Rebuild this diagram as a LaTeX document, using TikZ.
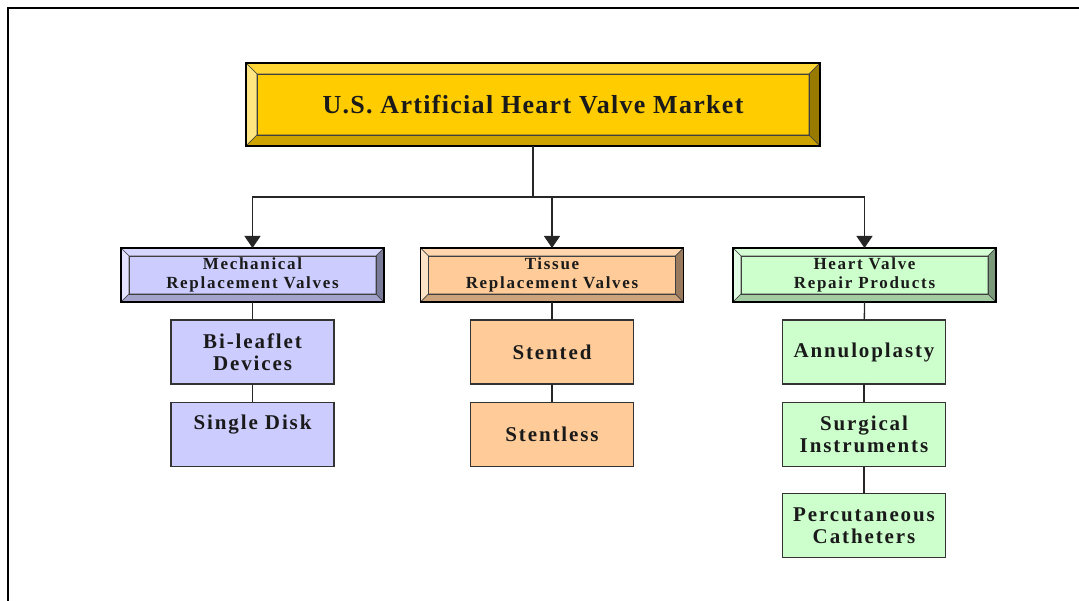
\documentclass[tikz,border=0pt]{standalone}
\usepackage{fontspec}
\setmainfont{Liberation Serif}
\newfontfamily\titlefont[LetterSpace=5]{Liberation Serif}
\newfontfamily\groupfont[LetterSpace=10]{Liberation Serif}
\newfontfamily\boxfont[LetterSpace=9]{Liberation Serif}
\usepackage{tikz}
\usetikzlibrary{arrows.meta}

\definecolor{goldface}{HTML}{FFCC00}
\definecolor{goldtop}{HTML}{FFD633}
\definecolor{goldleft}{HTML}{FFE680}
\definecolor{goldbottom}{HTML}{CCA300}
\definecolor{goldright}{HTML}{997A00}
\definecolor{mechface}{HTML}{CCCCFF}
\definecolor{mechtop}{HTML}{D6D6FF}
\definecolor{mechleft}{HTML}{E3E3FF}
\definecolor{mechbottom}{HTML}{A3A3CC}
\definecolor{mechright}{HTML}{7A7A99}
\definecolor{tissface}{HTML}{FFCC99}
\definecolor{tisstop}{HTML}{FFD6AD}
\definecolor{tissleft}{HTML}{FFE3C6}
\definecolor{tissbottom}{HTML}{CCA37A}
\definecolor{tissright}{HTML}{997A5C}
\definecolor{repface}{HTML}{CCFFCC}
\definecolor{reptop}{HTML}{D6FFD6}
\definecolor{repleft}{HTML}{E3FFE3}
\definecolor{repbottom}{HTML}{A3CCA3}
\definecolor{repright}{HTML}{7A997A}
\definecolor{inkcol}{HTML}{1A1A1A}

% bevelled frame round a node: name, bevel, top, left, bottom, right
\newcommand{\bevelbox}[6]{%
  \coordinate (#1-a) at ([xshift=#2,yshift=-#2]#1.north west);
  \coordinate (#1-b) at ([xshift=-#2,yshift=-#2]#1.north east);
  \coordinate (#1-c) at ([xshift=-#2,yshift=#2]#1.south east);
  \coordinate (#1-d) at ([xshift=#2,yshift=#2]#1.south west);
  \filldraw[fill=#3, bevelline] (#1.north west) -- (#1.north east) -- (#1-b) -- (#1-a) -- cycle;
  \filldraw[fill=#4, bevelline] (#1.north west) -- (#1-a) -- (#1-d) -- (#1.south west) -- cycle;
  \filldraw[fill=#5, bevelline] (#1.south west) -- (#1-d) -- (#1-c) -- (#1.south east) -- cycle;
  \filldraw[fill=#6, bevelline] (#1.north east) -- (#1.south east) -- (#1-c) -- (#1-b) -- cycle;
  \draw[bevelline] (#1-a) rectangle (#1-c);
  \draw[black, line width=1.3pt] (#1.north west) rectangle (#1.south east);
}

\begin{document}
\begin{tikzpicture}[x=1pt, y=-1pt,
    bevelline/.style={draw=black!75, line width=0.6pt},
    market/.style={rectangle, fill=goldface, minimum width=574pt, minimum height=83pt, outer sep=0pt,
      text=inkcol, font=\titlefont\bfseries\fontsize{26}{30}\selectfont},
    group/.style={rectangle, minimum width=263pt, minimum height=54pt, outer sep=0pt, align=center,
      text=inkcol, font=\groupfont\bfseries\fontsize{17}{19}\selectfont},
    leaf/.style={rectangle, draw=black!80, line width=1.2pt, minimum width=163pt, minimum height=64pt,
      outer sep=0pt, align=center, text=inkcol, font=\boxfont\bfseries\fontsize{21}{22}\selectfont},
    arrow/.style={-{Triangle[length=12pt, width=16pt]}, line width=1.3pt},
    link/.style={line width=1.3pt, draw=black!85}
]
\useasboundingbox (0,0) rectangle (1079,601);

% page frame
\draw[line width=2pt] (8,601) -- (8,8) -- (1079,8);

% top level
\node[market] at (533,104.5) (market) {U.S. Artificial Heart Valve Market};
\bevelbox{market}{11pt}{goldtop}{goldleft}{goldbottom}{goldright}

% product groups
\node[group, fill=mechface] at (252.5,275) (mech) {Mechanical\\Replacement Valves};
\bevelbox{mech}{8pt}{mechtop}{mechleft}{mechbottom}{mechright}
\node[group, fill=tissface] at (552,275) (tissue) {Tissue\\Replacement Valves};
\bevelbox{tissue}{8pt}{tisstop}{tissleft}{tissbottom}{tissright}
\node[group, fill=repface] at (864.5,275) (repair) {Heart Valve\\Repair Products};
\bevelbox{repair}{8pt}{reptop}{repleft}{repbottom}{repright}

% products
\node[leaf, fill=mechface] at (252.5,352) (bileaf) {Bi-leaflet\\Devices};
\node[leaf, fill=mechface, text depth=24pt] at (252.5,434.5) (disk) {Single Disk};
\node[leaf, fill=tissface] at (552,352) (stented) {Stented};
\node[leaf, fill=tissface] at (552,434.5) (stentless) {Stentless};
\node[leaf, fill=repface] at (864,352) (annulo) {Annuloplasty};
\node[leaf, fill=repface] at (864,434.5) (surgical) {Surgical\\Instruments};
\node[leaf, fill=repface] at (864,525.5) (percut) {Percutaneous\\Catheters};

% Arrows
\coordinate (fork) at ([yshift=-51pt]market.south);
\draw[link] (market.south) -- (fork);
\draw[link, arrow] (fork) -| (mech.north);
\draw[link, arrow] (fork) -| (tissue.north);
\draw[link, arrow] (fork) -| (repair.north);

% Links
\draw[link] (mech.south) -- (bileaf);
\draw[link] (bileaf) -- (disk);
\draw[link] (tissue.south) -- (stented);
\draw[link] (stented) -- (stentless);
\draw[link] (repair.south) -- (annulo);
\draw[link] (annulo) -- (surgical);
\draw[link] (surgical) -- (percut);

\end{tikzpicture}
\end{document}
